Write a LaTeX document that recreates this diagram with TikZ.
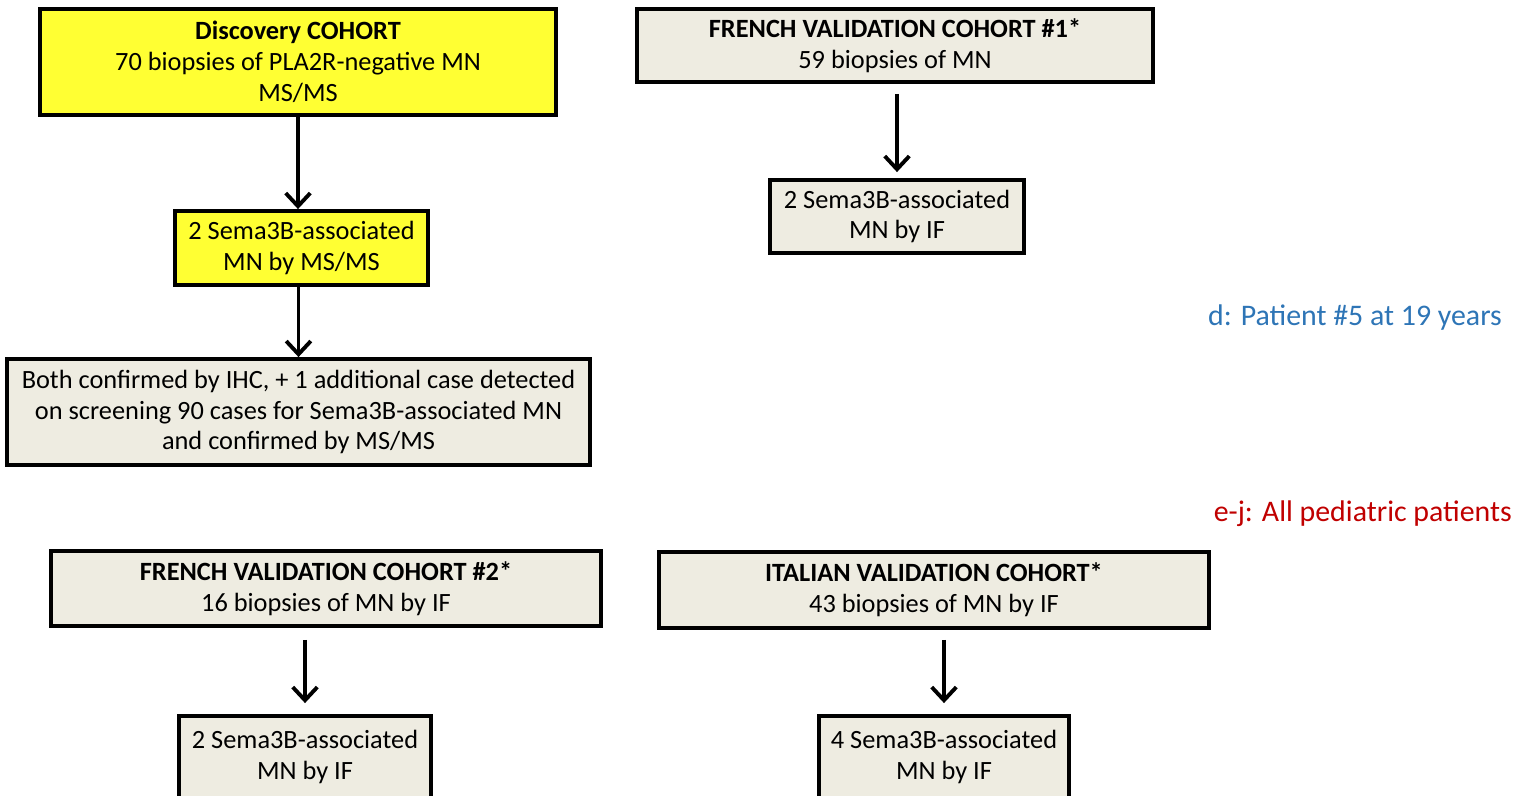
\documentclass[tikz,border=0pt]{standalone}
\usepackage{fontspec}
\setmainfont{Carlito}
\usetikzlibrary{arrows.meta}
\definecolor{boxyellow}{HTML}{FFFF33}
\definecolor{boxgrey}{HTML}{EEECE1}
\definecolor{noteblue}{HTML}{2E75B6}
\definecolor{notered}{HTML}{C00000}

\begin{document}
\begin{tikzpicture}[x=0.02cm, y=-0.02cm,
    box/.style={draw, line width=2.2pt, align=center, inner sep=0pt,
      font=\fontsize{15}{17.6}\selectfont},
    ybox/.style={box, fill=boxyellow},
    gbox/.style={box, fill=boxgrey},
    note/.style={anchor=east, font=\fontsize{17}{20}\selectfont},
    arr/.style={line width=2.2pt, -{Straight Barb[length=7.5pt,width=14pt]}}]
      \useasboundingbox (0,0) rectangle (1524,795);
      \clip (0,0) rectangle (1524,795);

      % discovery branch
      \node (disc) at (298, 62) [ybox, minimum width=10.32cm, minimum height=2.12cm]
        {\textbf{Discovery COHORT}\\70 biopsies of PLA2R-negative MN\\MS/MS};
      \node (semaMS) at (301.5, 248) [ybox, minimum width=5.06cm, minimum height=1.48cm]
        {2 Sema3B-associated\\MN by MS/MS};
      \node (both) at (298.5, 412) [gbox, minimum width=11.66cm, minimum height=2.12cm]
        {Both confirmed by IHC, + 1 additional case detected\\on screening 90 cases for Sema3B-associated MN\\and confirmed by MS/MS};
      \draw[arr] (disc.south) -- (disc.south |- semaMS.north);
      \draw[arr] (semaMS.south -| both) -- (both.north);

      % french cohort 1
      \node (frOne) at (895, 45.5) [gbox, minimum width=10.32cm, minimum height=1.46cm]
        {\textbf{FRENCH VALIDATION COHORT \#1*}\\59 biopsies of MN};
      \node (semaFrOne) at (897, 216.5) [gbox, minimum width=5.08cm, minimum height=1.46cm]
        {2 Sema3B-associated\\MN by IF};
      \draw[arr, shorten <=0.2cm, shorten >=0.12cm] (frOne.south -| semaFrOne) -- (semaFrOne.north);

      % notes
      \node (noteD) at (1508, 318) [note, text=noteblue] {d: Patient \#5 at 19 years};
      \node (noteEJ) at (1518, 514) [note, text=notered] {e-j: All pediatric patients};

      % french cohort 2
      \node (frTwo) at (326, 588.5) [gbox, minimum width=11cm, minimum height=1.5cm]
        {\textbf{FRENCH VALIDATION COHORT \#2*}\\16 biopsies of MN by IF};
      \node (semaFrTwo) at (305, 757) [gbox, minimum width=5.04cm, minimum height=1.64cm]
        {2 Sema3B-associated\\MN by IF};
      \draw[arr, shorten <=0.24cm, shorten >=0.22cm] (frTwo.south -| semaFrTwo) -- (semaFrTwo.north);

      % italian cohort
      \node (ita) at (934, 590) [gbox, minimum width=11cm, minimum height=1.52cm]
        {\textbf{ITALIAN VALIDATION COHORT*}\\43 biopsies of MN by IF};
      \node (semaIta) at (944, 757) [gbox, minimum width=5cm, minimum height=1.64cm]
        {4 Sema3B-associated\\MN by IF};
      \draw[arr, shorten <=0.2cm, shorten >=0.22cm] (ita.south -| semaIta) -- (semaIta.north);
    \end{tikzpicture}
\end{document}
